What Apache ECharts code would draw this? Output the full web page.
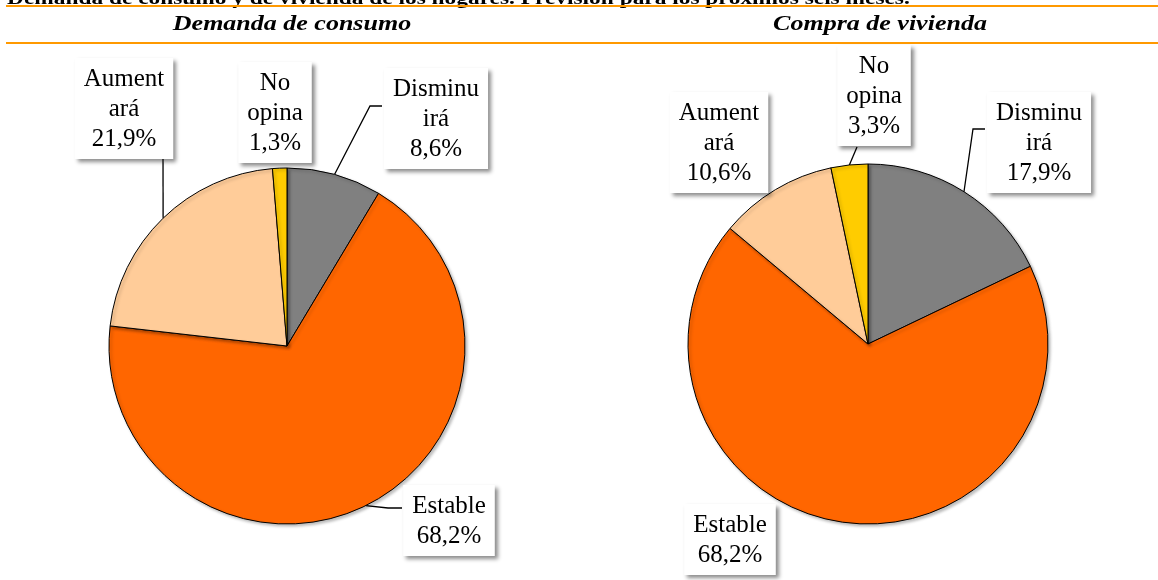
<!DOCTYPE html>
<html>
<head>
<meta charset="utf-8">
<title>Demanda de consumo y de vivienda</title>
<script src="https://cdn.jsdelivr.net/npm/echarts@6/dist/echarts.min.js"></script>
<style>
    html, body { margin: 0; padding: 0; background: #fff; }
    #main { width: 1158px; height: 580px; }
</style>
</head>
<body>
<div id="main"></div>
<script>
// categorias y valores (%)
var categorias = ['Disminuirá', 'Estable', 'Aumentará', 'No opina'];
var etiquetas = ['Disminu\nirá', 'Estable', 'Aument\nará', 'No\nopina'];
var consumo = [8.6, 68.2, 21.9, 1.3];
var vivienda = [17.9, 68.2, 10.6, 3.3];
var colores = ['#808080', '#FF6600', '#FFCC99', '#FFCC00'];

var fuente = '"Times New Roman", "Liberation Serif", serif';

// donde van las cajas de texto (centro x, arriba y) y el codo de la linea
var posConsumo = [
    {x: 436, y: 68, codo: [[370, 106], [382, 106]]},
    {x: 449, y: 485, codo: [[388, 508], [402, 508]]},
    {x: 124, y: 58, codo: [[163, 159], [163, 159]]},
    {x: 275, y: 62, codo: null}
];
var posVivienda = [
    {x: 1039, y: 92, codo: [[973, 129], [985, 129]]},
    {x: 730, y: 504, codo: null},
    {x: 719, y: 92, codo: null},
    {x: 874, y: 45, codo: [[857, 147], [857, 147]]}
];

function datos(valores, pos) {
    return valores.map(function (v, i) {
        return {
            name: categorias[i],
            value: v,
            itemStyle: {color: colores[i]},
            labelLine: {show: pos[i].codo != null}
        };
    });
}

function layout(pos) {
    return function (p) {
        var c = pos[p.dataIndex];
        var r = {x: c.x, y: c.y, align: 'center', verticalAlign: 'top'};
        if (c.codo && p.labelLinePoints) {
            r.labelLinePoints = [p.labelLinePoints[0], c.codo[0], c.codo[1]];
        }
        return r;
    };
}

var etiqueta = {
    show: true,
    position: 'outside',
    formatter: function (p) {
        return etiquetas[p.dataIndex] + '\n' + p.value.toFixed(1).replace('.', ',') + '%';
    },
    fontFamily: fuente,
    fontSize: 25,
    lineHeight: 30,
    color: '#000',
    backgroundColor: '#fff',
    padding: [6, 9, 5, 9],
    shadowColor: 'rgba(0,0,0,0.45)',
    shadowBlur: 4,
    shadowOffsetX: 3,
    shadowOffsetY: 3
};

function serie(valores, pos, centro, radio) {
    return {
        type: 'pie',
        center: centro,
        radius: radio,
        startAngle: 90,
        clockwise: true,
        avoidLabelOverlap: false,
        silent: true,
        data: datos(valores, pos),
        itemStyle: {
            borderColor: '#000',
            borderWidth: 1,
            shadowColor: 'rgba(0,0,0,0.25)',
            shadowBlur: 3,
            shadowOffsetX: 2,
            shadowOffsetY: 2
        },
        label: etiqueta,
        labelLine: {
            show: true,
            length: 10,
            length2: 10,
            smooth: false,
            lineStyle: {color: '#000', width: 1.3}
        },
        labelLayout: layout(pos),
        emphasis: {disabled: true}
    };
}

var option = {
    animation: false,
    backgroundColor: '#fff',
    graphic: [
        // titulo cortado arriba
        {
            type: 'text', x: 7, y: 9, scaleX: 1.23,
            style: {
                text: 'Demanda de consumo y de vivienda de los hogares. Previsión para los próximos seis meses.',
                font: 'bold 19px ' + fuente, fill: '#000',
                align: 'left', verticalAlign: 'bottom'
            }
        },
        {type: 'rect', shape: {x: 6, y: 5, width: 1152, height: 2}, style: {fill: '#FF9900'}},
        {type: 'rect', shape: {x: 6, y: 42, width: 1152, height: 2}, style: {fill: '#FF9900'}},
        {
            type: 'text', x: 292, y: 25, scaleX: 1.3,
            style: {
                text: 'Demanda de consumo', font: 'italic bold 20px ' + fuente,
                fill: '#000', align: 'center', verticalAlign: 'middle'
            }
        },
        {
            type: 'text', x: 880, y: 25, scaleX: 1.3,
            style: {
                text: 'Compra de vivienda', font: 'italic bold 20px ' + fuente,
                fill: '#000', align: 'center', verticalAlign: 'middle'
            }
        }
    ],
    series: [
        serie(consumo, posConsumo, [287, 346], 178),
        serie(vivienda, posVivienda, [868, 344], 180)
    ]
};

var chart = echarts.init(document.getElementById('main'));
chart.setOption(option);
</script>
</body>
</html>
